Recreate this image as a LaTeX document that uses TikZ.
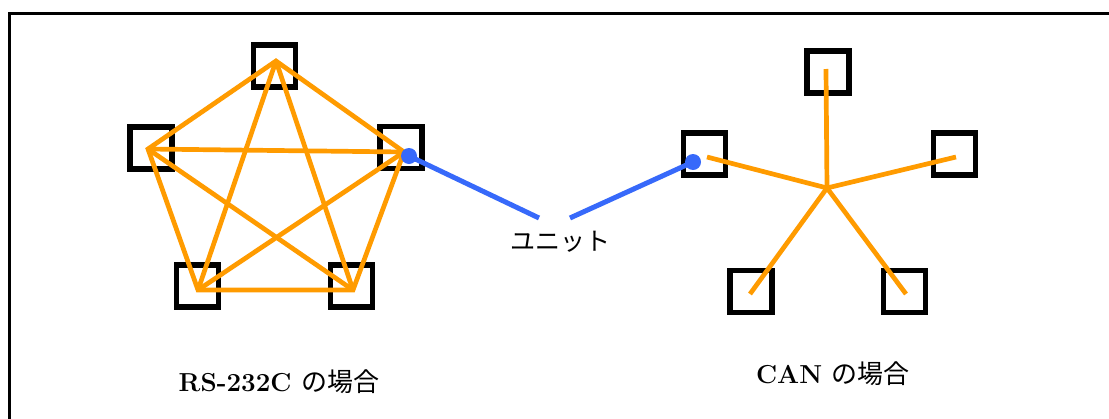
\documentclass[tikz,border=0pt]{standalone}
\usepackage{fontspec}
\newfontfamily\jpfont{Noto Sans CJK JP}
\definecolor{linkorange}{RGB}{255,155,0}
\definecolor{unitblue}{RGB}{55,105,250}
\begin{document}
\begin{tikzpicture}[x=1pt,y=-1pt,
  unitbox/.style={draw=black,line width=5.5pt,minimum size=42pt,inner sep=0pt,outer sep=0pt},
  wire/.style={draw=linkorange,line width=4.7pt,line cap=butt,line join=miter},
  busline/.style={draw=unitblue,line width=5pt},
  label/.style={font=\fontsize{26}{30}\selectfont,inner sep=0pt}]
\useasboundingbox (0,0) rectangle (1109,418);
% frame
\coordinate (fbl) at (9,420);
\coordinate (ftl) at (9,13);
\coordinate (ftr) at (1111,13);
\draw[line width=3pt] (fbl) -- (ftl) -- (ftr);
% RS-232C units
\node[unitbox] (a1) at (274.5,66) {};
\node[unitbox] (a2) at (151,148) {};
\node[unitbox] (a3) at (401,147.5) {};
\node[unitbox] (a4) at (197.5,286) {};
\node[unitbox] (a5) at (351.5,286) {};
\coordinate (p1) at (276,61);
\coordinate (p2) at (148,149);
\coordinate (p3) at (404,152);
\coordinate (p4) at (198,290);
\coordinate (p5) at (353,290);
\draw[wire] (p1) -- (p2) -- (p4) -- (p5) -- (p3) -- cycle;
\draw[wire] (p1) -- (p4);
\draw[wire] (p1) -- (p5);
\draw[wire] (p2) -- (p3);
\draw[wire] (p2) -- (p5);
\draw[wire] (p3) -- (p4);
% CAN units
\node[unitbox] (b1) at (828,72) {};
\node[unitbox] (b2) at (704.5,154) {};
\node[unitbox] (b3) at (954.5,154) {};
\node[unitbox] (b4) at (751,291.5) {};
\node[unitbox] (b5) at (904.5,291.5) {};
\coordinate (hub) at (827,188);
\coordinate (q1) at (826,69);
\coordinate (q2) at (707,157);
\coordinate (q3) at (956,157);
\coordinate (q4) at (750,294);
\coordinate (q5) at (906,294);
\draw[wire] (hub) -- (q1);
\draw[wire] (hub) -- (q2);
\draw[wire] (hub) -- (q3);
\draw[wire] (hub) -- (q4);
\draw[wire] (hub) -- (q5);
% unit pointers
\coordinate (d1) at (409,156);
\coordinate (d2) at (693,162);
\coordinate (e1) at (539,218);
\coordinate (e2) at (570,218);
\draw[busline] (d1) -- (e1);
\draw[busline] (d2) -- (e2);
\fill[unitblue] (d1) circle (8pt);
\fill[unitblue] (d2) circle (8pt);
\node[label,font=\fontsize{25}{28}\selectfont\jpfont] (unit) at (560,242) {ユニット};
% captions
\node[label] (cap1) at (279,382) {\bfseries RS-232C {\mdseries\jpfont の場合}};
\node[label] (cap2) at (833,374) {\bfseries CAN {\mdseries\jpfont の場合}};
\end{tikzpicture}
\end{document}
